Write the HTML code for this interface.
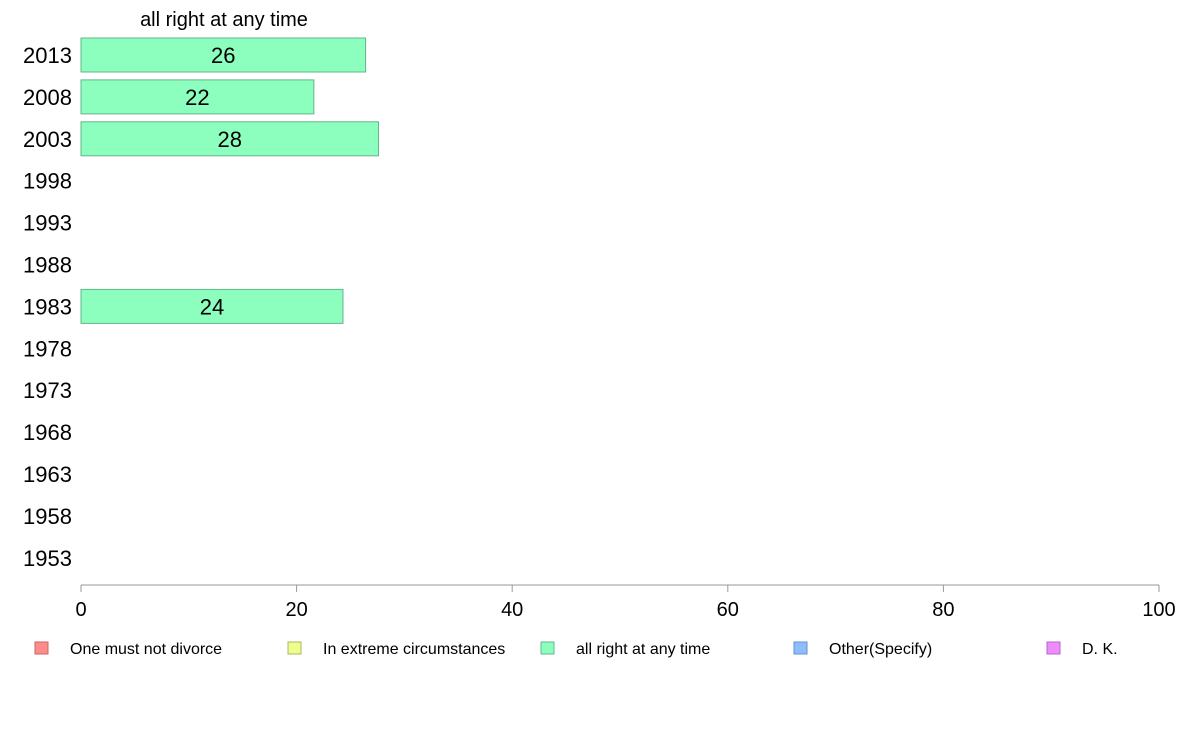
<!DOCTYPE html>
<html><head><meta charset="utf-8"><style>
body{margin:0;background:#fff;font-family:"Liberation Sans",Arial,sans-serif}
</style></head><body>
<svg width="1188" height="736" xmlns="http://www.w3.org/2000/svg" font-family="Liberation Sans, Arial, sans-serif">
<rect width="1188" height="736" fill="#fff"/>
<text x="224" y="26" font-size="20" text-anchor="middle">all right at any time</text>
<g id="bars"></g>
<g id="ylabels"></g>
<g id="xaxis"></g>
<g id="legend"></g>
</svg>
<script>
const years = ["2013","2008","2003","1998","1993","1988","1983","1978","1973","1968","1963","1958","1953"];
const values = [26.4, 21.6, 27.6, null, null, null, 24.3, null, null, null, null, null, null];
const labels = ["26","22","28","","","","24","","","","","",""];
const xTicks = [0,20,40,60,80,100];
const legendLabels = ["One must not divorce","In extreme circumstances","all right at any time","Other(Specify)","D. K."];
const legendColors = ["#ff8c8c","#eeff8c","#8cffbe","#8cbeff","#ee8cff"];
const legendStroke = ["#c86464","#aab464","#64b48c","#6490c8","#b464c8"];

const NS="http://www.w3.org/2000/svg";
const x0=81,x1=1159,yTop=55,step=41.9,bh=34;
const xs=v=>x0+(v/100)*(x1-x0);
const ys=i=>yTop+i*step;
function mk(tag,attrs,parent){const e=document.createElementNS(NS,tag);for(const k in attrs)e.setAttribute(k,attrs[k]);parent.appendChild(e);return e;}
const gb=document.getElementById('bars'),gy=document.getElementById('ylabels'),gx=document.getElementById('xaxis'),gl=document.getElementById('legend');
years.forEach((y,i)=>{
  const t=mk('text',{x:72,y:ys(i)+8,'font-size':22,'text-anchor':'end'},gy);t.textContent=y;
  
  
  if(values[i]!=null){
    const r=mk('rect',{x:x0,y:ys(i)-bh/2,width:xs(values[i])-x0,height:bh,fill:'#8cffbe',stroke:'#64b48c','stroke-width':1},gb);
    
    
    const l=mk('text',{x:(x0+xs(values[i]))/2,y:ys(i)+8,'font-size':22,'text-anchor':'middle'},gb);l.textContent=labels[i];
    
    
  }
});
const al=mk('line',{x1:x0,x2:x1,y1:585,y2:585,stroke:'#999','stroke-width':1},gx);


xTicks.forEach(v=>{
  const tk=mk('line',{x1:xs(v),x2:xs(v),y1:585,y2:592,stroke:'#999'},gx);
  
  
  const t=mk('text',{x:xs(v),y:616,'font-size':20,'text-anchor':'middle'},gx);t.textContent=v;
  
  
});
legendLabels.forEach((s,i)=>{
  const lx=35+i*253;
  const r=mk('rect',{x:lx,y:642,width:13,height:12,fill:legendColors[i],stroke:legendStroke[i]},gl);
  
  
  const t=mk('text',{x:lx+35,y:654,'font-size':16},gl);t.textContent=s;
  
  
});
</script>
</body></html>
